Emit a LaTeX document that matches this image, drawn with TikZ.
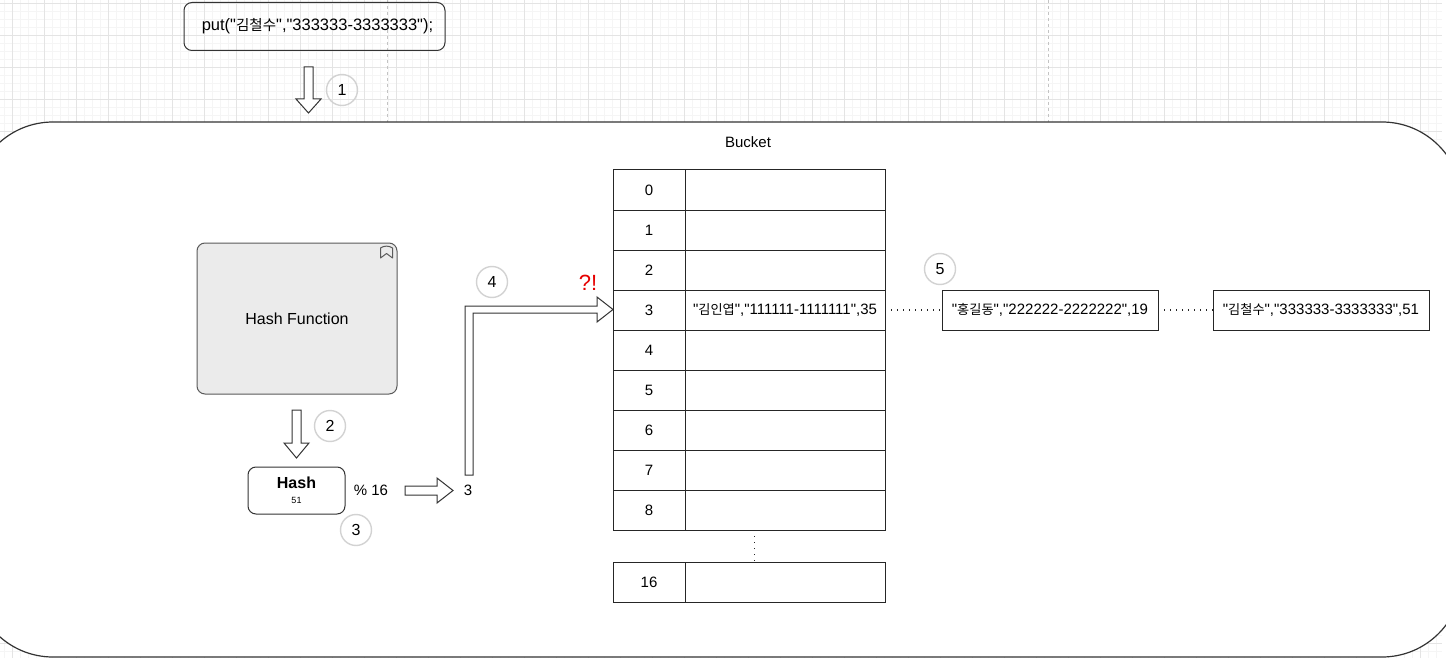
\documentclass[tikz,border=0pt]{standalone}
\usepackage{fontspec}
\newfontfamily\sansfont{Liberation Sans}
\newfontfamily\krfont{Noto Sans CJK KR}[Scale=0.88]
\newcommand{\KrText}[1]{{\krfont #1}}
\usetikzlibrary{positioning,calc}
\definecolor{GridMinorClr}{RGB}{245,245,245}
\definecolor{GridMajorClr}{RGB}{228,228,228}
\definecolor{PageClr}{RGB}{195,195,195}
\definecolor{LineClr}{RGB}{51,51,51}
\definecolor{FuncClr}{RGB}{235,235,235}
\definecolor{FuncLineClr}{RGB}{90,90,90}
\definecolor{CircleClr}{RGB}{210,210,210}
\definecolor{AlertClr}{RGB}{230,0,0}

\tikzset{
  basefont/.style={font=\sansfont\fontsize{15}{18}\selectfont},
  roundbox/.style={draw=LineClr,line width=1pt,rounded corners=8pt,inner sep=0pt,basefont},
  stepnum/.style={circle,draw=CircleClr,line width=1.4pt,minimum size=31pt,inner sep=0pt,font=\sansfont\fontsize{16}{18}\selectfont},
  idxcell/.style={draw=black!85,line width=1pt,minimum width=72,minimum height=40,inner sep=0pt,outer sep=0pt,basefont},
  valcell/.style={idxcell,minimum width=200},
  recbox/.style={idxcell,minimum width=216},
  chainline/.style={line width=1.3pt,dash pattern=on 1.3pt off 4.7pt,black!85},
  blockarrow/.style={draw=LineClr,line width=1pt,fill=white,line join=miter}
}

\begin{document}
\begin{tikzpicture}[x=1pt,y=-1pt,basefont]
\useasboundingbox (0,0) rectangle (1446,658);

% Canvas grid.
\foreach \gx in {4,12,...,1436} \draw[GridMinorClr,line width=0.8pt] (\gx,0) -- (\gx,658);
\foreach \gy in {3,11,...,651} \draw[GridMinorClr,line width=0.8pt] (0,\gy) -- (1442,\gy);
\foreach \gx in {12,44,...,1436} \draw[GridMajorClr,line width=0.9pt] (\gx,0) -- (\gx,658);
\foreach \gy in {3,35,...,643} \draw[GridMajorClr,line width=0.9pt] (0,\gy) -- (1442,\gy);
\draw[PageClr,dashed,line width=0.8pt] (387,0) -- (387,122) (1048,0) -- (1048,122);

% The bucket container.
\draw[LineClr,line width=1.2pt,fill=white,rounded corners=80pt] (-27,122) rectangle (1462,657);
\node (bucket) at (748,142) {Bucket};

% Call and hashing.
\node[roundbox,minimum width=261,minimum height=48,font=\sansfont\fontsize{16.5}{19}\selectfont] (put)
  at (314.5,26.5) {\hspace*{6pt}put("\KrText{김철수}","333333-3333333");};
\node[roundbox,draw=FuncLineClr,fill=FuncClr,minimum width=200,minimum height=151,
  font=\sansfont\fontsize{16}{19}\selectfont] (func) at (297,318.5) {Hash Function};
\draw[FuncLineClr,line width=1pt,line join=round] (380.5,258) -- (380.5,248)
  .. controls (384,245.5) and (389,245.5) .. (392.5,248) -- (392.5,258) -- (386.5,253.5) -- cycle;
\node[roundbox,minimum width=97,minimum height=47,align=center] (hash) at (296.5,490.5)
  {\fontsize{16}{16}\selectfont\bfseries Hash\\[-3pt]\fontsize{9}{10}\selectfont 51};
\node (mod) at (371,490) {\%~16};
\node (slot) at (468,490) {3};
\node[text=AlertClr,font=\sansfont\fontsize{22}{24}\selectfont] (alert) at (588,283) {?!};

% Block arrows.
\draw[blockarrow] (304,67) -- (313,67) -- (313,99) -- (321,99) -- (308.5,113) -- (296,99) -- (304,99) -- cycle;
\draw[blockarrow] (292,410) -- (301,410) -- (301,443) -- (309,443) -- (296.5,458) -- (284,443) -- (292,443) -- cycle;
\draw[blockarrow] (405,486) -- (437,486) -- (437,478) -- (453,490.5) -- (437,503) -- (437,495) -- (405,495) -- cycle;
\draw[blockarrow] (465,475) -- (465,306) -- (597,306) -- (597,297) -- (613,309.5) -- (597,322)
  -- (597,313) -- (473,313) -- (473,475) -- cycle;

% Step numbers.
\node[stepnum] (s1) at (342,90) {1};
\node[stepnum] (s2) at (330,426) {2};
\node[stepnum] (s3) at (356,530) {3};
\node[stepnum] (s4) at (492,282) {4};
\node[stepnum] (s5) at (940,269) {5};

% Bucket table.
\foreach \r in {0,...,8}{
  \node[idxcell] (idx\r) at (649,{190+40*\r}) {\r};
  \node[valcell,right=0pt of idx\r] (val\r) {};
}
\node[idxcell,below=32pt of idx8] (idx16) {16};
\node[valcell,right=0pt of idx16] (val16) {};
\draw[chainline] ($(idx8.south west)!0.52!(val8.south east)$) -- ($(idx16.north west)!0.52!(val16.north east)$);

% Chained entries in slot 3.
\node (rec1) at (val3.center) {"\KrText{김인엽}","111111-1111111",35};
\node[recbox] (rec2) at (1050,310) {"\KrText{홍길동}","222222-2222222",19};
\node[recbox] (rec3) at (1321,310) {"\KrText{김철수}","333333-3333333",51};
\draw[chainline] (val3.east) -- (rec2.west);
\draw[chainline] (rec2.east) -- (rec3.west);

\end{tikzpicture}
\end{document}
